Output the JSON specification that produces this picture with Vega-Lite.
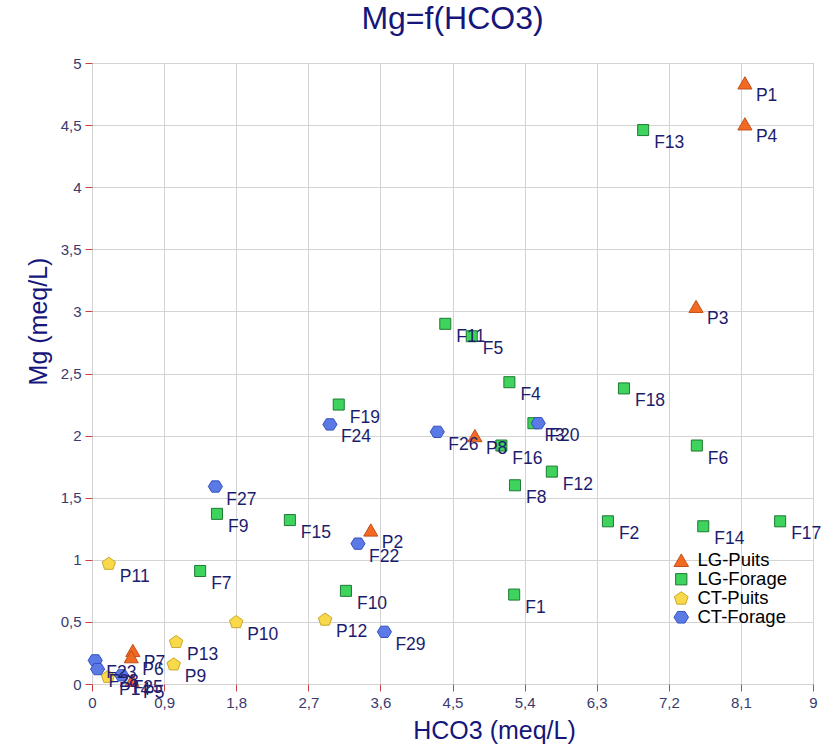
{
  "$schema": "https://vega.github.io/schema/vega-lite/v6.json",
  "width": 721,
  "height": 621,
  "autosize": "none",
  "padding": {"left": 92, "top": 63, "right": 8, "bottom": 60},
  "background": "white",
  "title": {
    "text": "Mg=f(HCO3)",
    "fontSize": 32,
    "font": "Liberation Sans",
    "fontWeight": "normal",
    "color": "#16167a",
    "anchor": "middle",
    "baseline": "alphabetic",
    "offset": -5
  },
  "config": {
    "font": "Liberation Sans",
    "view": {"stroke": "#cfcfcf"}
  },
  "data": {
    "values": [
      {"x": 8.15, "y": 4.84, "label": "P1", "group": "LG-Puits"},
      {"x": 8.15, "y": 4.51, "label": "P4", "group": "LG-Puits"},
      {"x": 7.54, "y": 3.04, "label": "P3", "group": "LG-Puits"},
      {"x": 4.78, "y": 2.0, "label": "P8", "group": "LG-Puits"},
      {"x": 3.48, "y": 1.24, "label": "P2", "group": "LG-Puits"},
      {"x": 0.51, "y": 0.27, "label": "P7", "group": "LG-Puits"},
      {"x": 0.49, "y": 0.22, "label": "P6", "group": "LG-Puits"},
      {"x": 0.5, "y": 0.03, "label": "P5", "group": "LG-Puits"},
      {"x": 6.88, "y": 4.46, "label": "F13", "group": "LG-Forage"},
      {"x": 4.41, "y": 2.9, "label": "F11", "group": "LG-Forage"},
      {"x": 4.74, "y": 2.8, "label": "F5", "group": "LG-Forage"},
      {"x": 5.21, "y": 2.43, "label": "F4", "group": "LG-Forage"},
      {"x": 6.64, "y": 2.38, "label": "F18", "group": "LG-Forage"},
      {"x": 5.51, "y": 2.1, "label": "F3", "group": "LG-Forage"},
      {"x": 5.11, "y": 1.92, "label": "F16", "group": "LG-Forage"},
      {"x": 5.74, "y": 1.71, "label": "F12", "group": "LG-Forage"},
      {"x": 5.28, "y": 1.6, "label": "F8", "group": "LG-Forage"},
      {"x": 7.55, "y": 1.92, "label": "F6", "group": "LG-Forage"},
      {"x": 6.44, "y": 1.31, "label": "F2", "group": "LG-Forage"},
      {"x": 7.63, "y": 1.27, "label": "F14", "group": "LG-Forage"},
      {"x": 8.59, "y": 1.31, "label": "F17", "group": "LG-Forage"},
      {"x": 3.08, "y": 2.25, "label": "F19", "group": "LG-Forage"},
      {"x": 1.56, "y": 1.37, "label": "F9", "group": "LG-Forage"},
      {"x": 2.47, "y": 1.32, "label": "F15", "group": "LG-Forage"},
      {"x": 1.35, "y": 0.91, "label": "F7", "group": "LG-Forage"},
      {"x": 3.17, "y": 0.75, "label": "F10", "group": "LG-Forage"},
      {"x": 5.27, "y": 0.72, "label": "F1", "group": "LG-Forage"},
      {"x": 0.21, "y": 0.97, "label": "P11", "group": "CT-Puits"},
      {"x": 1.05, "y": 0.34, "label": "P13", "group": "CT-Puits"},
      {"x": 1.02, "y": 0.16, "label": "P9", "group": "CT-Puits"},
      {"x": 1.8, "y": 0.5, "label": "P10", "group": "CT-Puits"},
      {"x": 2.91, "y": 0.52, "label": "P12", "group": "CT-Puits"},
      {"x": 0.2, "y": 0.06, "label": "P14", "group": "CT-Puits"},
      {"x": 2.97, "y": 2.09, "label": "F24", "group": "CT-Forage"},
      {"x": 4.31, "y": 2.03, "label": "F26", "group": "CT-Forage"},
      {"x": 5.57, "y": 2.1, "label": "F20", "group": "CT-Forage"},
      {"x": 1.54, "y": 1.59, "label": "F27", "group": "CT-Forage"},
      {"x": 3.32, "y": 1.13, "label": "F22", "group": "CT-Forage"},
      {"x": 3.65, "y": 0.42, "label": "F29", "group": "CT-Forage"},
      {"x": 0.04, "y": 0.19, "label": "F23", "group": "CT-Forage"},
      {"x": 0.07, "y": 0.12, "label": "F28", "group": "CT-Forage"},
      {"x": 0.37, "y": 0.07, "label": "F25", "group": "CT-Forage"}
    ]
  },
  "encoding": {
    "x": {
      "field": "x",
      "type": "quantitative",
      "scale": {"domain": [0, 9], "nice": false, "zero": false},
      "axis": {
        "title": "HCO3 (meq/L)",
        "titleFontSize": 25,
        "titleFontWeight": "normal",
        "titleColor": "#16167a",
        "titlePadding": 8,
        "titleX": 402,
        "values": [0, 0.9, 1.8, 2.7, 3.6, 4.5, 5.4, 6.3, 7.2, 8.1, 9],
        "labelExpr": "replace(format(datum.value, '~g'), '.', ',')",
        "labelFontSize": 15,
        "labelColor": "#3a3a6e",
        "labelPadding": 4,
        "tickColor": "#c84040",
        "tickSize": 7,
        "domain": false,
        "grid": true,
        "gridColor": "#d3d3d3",
        "labelFlush": false
      }
    },
    "y": {
      "field": "y",
      "type": "quantitative",
      "scale": {"domain": [0, 5], "nice": false, "zero": false},
      "axis": {
        "title": "Mg (meq/L)",
        "titleFontSize": 25,
        "titleFontWeight": "normal",
        "titleColor": "#16167a",
        "titlePadding": 9,
        "titleY": 258,
        "values": [0, 0.5, 1, 1.5, 2, 2.5, 3, 3.5, 4, 4.5, 5],
        "labelExpr": "replace(format(datum.value, '~g'), '.', ',')",
        "labelFontSize": 15,
        "labelColor": "#3a3a6e",
        "labelPadding": 4,
        "tickColor": "#c84040",
        "tickSize": 7,
        "domain": false,
        "grid": true,
        "gridColor": "#d3d3d3",
        "labelFlush": false
      }
    }
  },
  "layer": [
    {
      "mark": {"type": "point", "filled": true, "size": 200, "strokeWidth": 1, "opacity": 1, "strokeOpacity": 1},
      "encoding": {
        "color": {
          "field": "group",
          "type": "nominal",
          "scale": {
            "domain": ["LG-Puits", "LG-Forage", "CT-Puits", "CT-Forage"],
            "range": ["#f26a22", "#3dd35c", "#f7d94a", "#5b7ae6"]
          },
          "legend": {
            "title": null,
            "orient": "none",
            "legendX": 580,
            "legendY": 488,
            "labelFontSize": 18.5,
            "symbolSize": 210,
            "symbolStrokeWidth": 1,
            "rowPadding": 0,
            "labelOffset": 7,
            "encode": {
              "labels": {
                "update": {
                  "fill": {"signal": "datum.label === 'LG-Puits' ? '#9c5a2a' : datum.label === 'LG-Forage' ? '#2f6f47' : datum.label === 'CT-Puits' ? '#a8952a' : '#3a4fc0'"}
                }
              }
            }
          }
        },
        "stroke": {
          "field": "group",
          "type": "nominal",
          "scale": {
            "domain": ["LG-Puits", "LG-Forage", "CT-Puits", "CT-Forage"],
            "range": ["#c0501c", "#1f7a35", "#c9a82a", "#3550c0"]
          },
          "legend": null
        },
        "shape": {
          "field": "group",
          "type": "nominal",
          "scale": {
            "domain": ["LG-Puits", "LG-Forage", "CT-Puits", "CT-Forage"],
            "range": [
              "triangle-up",
              "M-0.78,-0.78L0.78,-0.78L0.78,0.78L-0.78,0.78Z",
              "M0,-0.9L0.95,-0.22L0.6,0.82L-0.6,0.82L-0.95,-0.22Z",
              "M1,0L0.5,0.8L-0.5,0.8L-1,0L-0.5,-0.8L0.5,-0.8Z"
            ]
          },
          "legend": null
        }
      }
    },
    {
      "mark": {"type": "text", "align": "left", "baseline": "middle", "dx": 11, "dy": 13, "fontSize": 17.5, "color": "#1c1c6e"},
      "encoding": {
        "text": {"field": "label"}
      }
    }
  ]
}
